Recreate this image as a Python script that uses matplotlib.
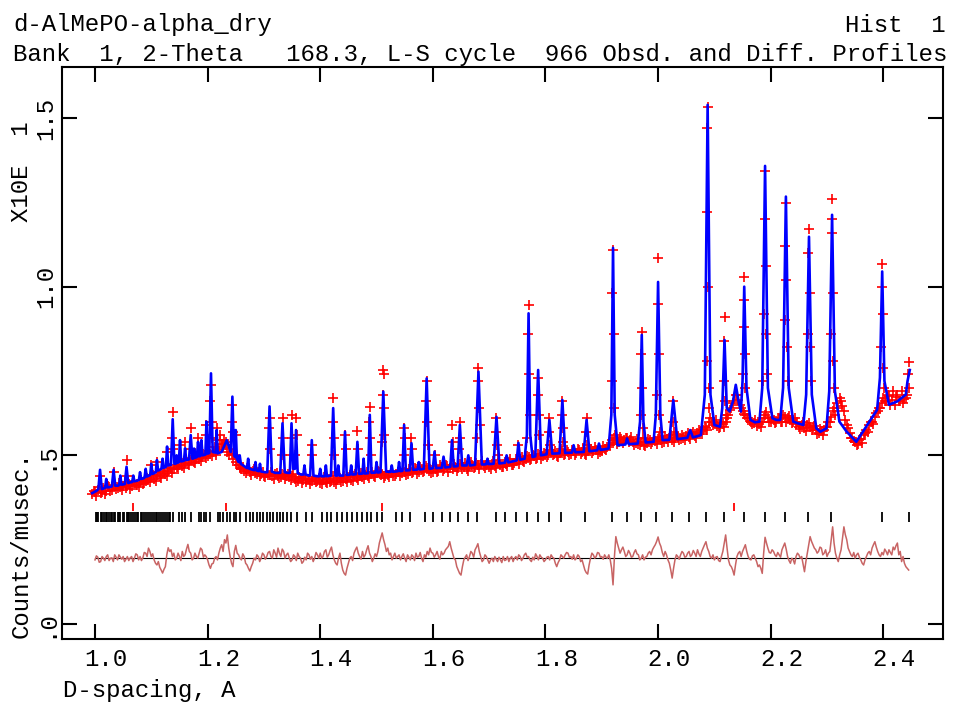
import numpy as np
import matplotlib
matplotlib.use("Agg")
import matplotlib.pyplot as plt
from matplotlib.transforms import ScaledTranslation

plt.rcParams['font.family'] = ['Liberation Mono', 'DejaVu Sans Mono']

# ---------------- data ----------------
title_left = "d-AlMePO-alpha_dry"
title_right = "Hist  1"
subtitle = "Bank  1, 2-Theta   168.3, L-S cycle  966 Obsd. and Diff. Profiles"
x_label = "D-spacing, A"
y_label = "Counts/musec."
y_scale_label = "X10E  1"

x_ticks = [1.0, 1.2, 1.4, 1.6, 1.8, 2.0, 2.2, 2.4]
x_tick_labels = ["1.0", "1.2", "1.4", "1.6", "1.8", "2.0", "2.2", "2.4"]
y_ticks = [0.0, 0.5, 1.0, 1.5]
y_tick_labels = [".0", ".5", "1.0", "1.5"]

# calculated profile (d, counts)
calc_profile = [
    (0.995, 0.388), (1.003, 0.395),
    (1.006, 0.400), (1.009, 0.457), (1.012, 0.400), (1.016, 0.402),
    (1.018, 0.404), (1.020, 0.430), (1.022, 0.405), (1.027, 0.406),
    (1.030, 0.408), (1.033, 0.457), (1.036, 0.410), (1.041, 0.410),
    (1.043, 0.412), (1.045, 0.440), (1.047, 0.413), (1.051, 0.414),
    (1.053, 0.415), (1.056, 0.466), (1.059, 0.418), (1.063, 0.420),
    (1.066, 0.421), (1.068, 0.440), (1.070, 0.423), (1.075, 0.425),
    (1.078, 0.427), (1.080, 0.450), (1.082, 0.430), (1.086, 0.432),
    (1.088, 0.434), (1.090, 0.460), (1.092, 0.437), (1.096, 0.440),
    (1.098, 0.442), (1.100, 0.475), (1.102, 0.445), (1.106, 0.448),
    (1.108, 0.450), (1.110, 0.486), (1.112, 0.455), (1.116, 0.458),
    (1.118, 0.460), (1.120, 0.490), (1.122, 0.463),
    (1.126, 0.466), (1.128, 0.526), (1.130, 0.470),
    (1.135, 0.472), (1.138, 0.607), (1.141, 0.475),
    (1.144, 0.476), (1.145, 0.500), (1.147, 0.478),
    (1.149, 0.480), (1.151, 0.545), (1.153, 0.482),
    (1.158, 0.484), (1.160, 0.521), (1.162, 0.486),
    (1.167, 0.488), (1.170, 0.560), (1.173, 0.490),
    (1.175, 0.491), (1.176, 0.520), (1.178, 0.493),
    (1.181, 0.495), (1.183, 0.540), (1.185, 0.497),
    (1.187, 0.498), (1.189, 0.545), (1.191, 0.500),
    (1.196, 0.502), (1.198, 0.600), (1.200, 0.505),
    (1.203, 0.507), (1.206, 0.743), (1.209, 0.510),
    (1.214, 0.508), (1.216, 0.575), (1.218, 0.506),
    (1.225, 0.510), (1.234, 0.545), (1.239, 0.520),
    (1.241, 0.510), (1.244, 0.674), (1.247, 0.500),
    (1.249, 0.495), (1.250, 0.575), (1.252, 0.490),
    (1.255, 0.480), (1.257, 0.500), (1.259, 0.475), (1.265, 0.468),
    (1.270, 0.462), (1.272, 0.490), (1.274, 0.460),
    (1.283, 0.456), (1.285, 0.480), (1.287, 0.455),
    (1.291, 0.453), (1.293, 0.475), (1.295, 0.452), (1.302, 0.450),
    (1.306, 0.450), (1.310, 0.645), (1.314, 0.452), (1.320, 0.448),
    (1.329, 0.448), (1.333, 0.595), (1.337, 0.450), (1.342, 0.448),
    (1.346, 0.448), (1.349, 0.595), (1.352, 0.460),
    (1.355, 0.460), (1.357, 0.575), (1.360, 0.447), (1.366, 0.443),
    (1.370, 0.443), (1.372, 0.470), (1.374, 0.443), (1.380, 0.440),
    (1.382, 0.440), (1.385, 0.545), (1.388, 0.440), (1.395, 0.438),
    (1.398, 0.438), (1.400, 0.460), (1.402, 0.438),
    (1.408, 0.438), (1.410, 0.470), (1.412, 0.438),
    (1.419, 0.440), (1.423, 0.640), (1.427, 0.440),
    (1.430, 0.440), (1.432, 0.470), (1.434, 0.440),
    (1.441, 0.440), (1.444, 0.570), (1.447, 0.442),
    (1.453, 0.443), (1.455, 0.470), (1.457, 0.443),
    (1.463, 0.444), (1.466, 0.540), (1.469, 0.445),
    (1.475, 0.446), (1.477, 0.490), (1.479, 0.446),
    (1.485, 0.447), (1.488, 0.620), (1.491, 0.448),
    (1.498, 0.449), (1.500, 0.480), (1.502, 0.449),
    (1.507, 0.450), (1.512, 0.689), (1.517, 0.452), (1.522, 0.451),
    (1.525, 0.451), (1.527, 0.470), (1.529, 0.451),
    (1.538, 0.453), (1.540, 0.480), (1.542, 0.453),
    (1.546, 0.454), (1.549, 0.590), (1.552, 0.455),
    (1.559, 0.456), (1.562, 0.536), (1.565, 0.457),
    (1.573, 0.458), (1.575, 0.480), (1.577, 0.458),
    (1.584, 0.460), (1.589, 0.728), (1.594, 0.460),
    (1.600, 0.462), (1.603, 0.511), (1.606, 0.462),
    (1.616, 0.463), (1.619, 0.496), (1.622, 0.464),
    (1.631, 0.466), (1.634, 0.545), (1.637, 0.467),
    (1.644, 0.468), (1.648, 0.590), (1.652, 0.470),
    (1.660, 0.470), (1.663, 0.500), (1.666, 0.470),
    (1.675, 0.472), (1.681, 0.748), (1.687, 0.473), (1.692, 0.473),
    (1.695, 0.474), (1.697, 0.490), (1.699, 0.474),
    (1.708, 0.475), (1.713, 0.614), (1.718, 0.476),
    (1.728, 0.478), (1.731, 0.500), (1.734, 0.479),
    (1.749, 0.485), (1.752, 0.537), (1.755, 0.487),
    (1.763, 0.490), (1.767, 0.560), (1.770, 0.921), (1.773, 0.560), (1.777, 0.495),
    (1.782, 0.497), (1.787, 0.753), (1.792, 0.500),
    (1.802, 0.503), (1.807, 0.605), (1.812, 0.505),
    (1.825, 0.506), (1.830, 0.664), (1.835, 0.507),
    (1.847, 0.508), (1.850, 0.530), (1.853, 0.509),
    (1.868, 0.510), (1.873, 0.605), (1.878, 0.512),
    (1.892, 0.515), (1.895, 0.535), (1.898, 0.516),
    (1.912, 0.520), (1.917, 0.620), (1.920, 1.115), (1.923, 0.620), (1.928, 0.530),
    (1.942, 0.532), (1.945, 0.550), (1.948, 0.533),
    (1.964, 0.535), (1.968, 0.600), (1.971, 0.857), (1.974, 0.600), (1.978, 0.538),
    (1.992, 0.540), (1.996, 0.620), (2.000, 1.014), (2.004, 0.620), (2.008, 0.545),
    (2.020, 0.546), (2.027, 0.664), (2.034, 0.548),
    (2.052, 0.552), (2.057, 0.575), (2.062, 0.553),
    (2.076, 0.560), (2.083, 0.680), (2.088, 1.539), (2.093, 0.680), (2.100, 0.590),
    (2.110, 0.585), (2.114, 0.640), (2.118, 0.842), (2.122, 0.640), (2.127, 0.630),
    (2.133, 0.660), (2.138, 0.709), (2.143, 0.660),
    (2.147, 0.630), (2.150, 0.720), (2.153, 1.000), (2.157, 0.700), (2.164, 0.605), (2.172, 0.598),
    (2.180, 0.600), (2.185, 0.700), (2.190, 1.358), (2.195, 0.700), (2.203, 0.610), (2.210, 0.605),
    (2.217, 0.605), (2.222, 0.700), (2.227, 1.267), (2.232, 0.700), (2.240, 0.600), (2.248, 0.595),
    (2.258, 0.590), (2.263, 0.680), (2.268, 1.148), (2.273, 0.680), (2.281, 0.580), (2.288, 0.570),
    (2.299, 0.580), (2.304, 0.690), (2.309, 1.213), (2.314, 0.690), (2.322, 0.600),
    (2.335, 0.570), (2.352, 0.540), (2.385, 0.625),
    (2.389, 0.635), (2.394, 0.730), (2.398, 1.045), (2.402, 0.720), (2.410, 0.650),
    (2.425, 0.660), (2.440, 0.680), (2.443, 0.720), (2.447, 0.753),
]

# observed points along the background: two interleaved rows, step 0.005 A
obs_start = 0.995
obs_step = 0.005
obs_bg_v = [
    0.385, 0.392, 0.398, 0.388, 0.402, 0.395, 0.405, 0.398, 0.410, 0.402,
    0.405, 0.410, 0.402, 0.415, 0.408, 0.418, 0.412, 0.420, 0.415, 0.425,
    0.428, 0.435, 0.430, 0.442, 0.438, 0.448, 0.445, 0.455, 0.460, 0.458,
    0.465, 0.472, 0.468, 0.478, 0.475, 0.485, 0.480, 0.490, 0.488, 0.495,
    0.500, 0.498, 0.505, 0.510, 0.500, 0.520, 0.535, 0.530, 0.510, 0.520,
    0.490, 0.480, 0.470, 0.458, 0.455, 0.462, 0.450, 0.455, 0.448, 0.452,
    0.445, 0.440, 0.448, 0.442, 0.438, 0.445, 0.440, 0.435, 0.442, 0.438,
    0.435, 0.440, 0.430, 0.425, 0.432, 0.428, 0.422, 0.430, 0.425, 0.428,
    0.425, 0.418, 0.428, 0.422, 0.430, 0.425, 0.420, 0.428, 0.432, 0.425,
    0.430, 0.435, 0.428, 0.438, 0.432, 0.440, 0.435, 0.442, 0.438, 0.445,
    0.440, 0.448, 0.452, 0.445, 0.438, 0.442, 0.448, 0.440, 0.445, 0.450,
    0.448, 0.452, 0.445, 0.455, 0.450, 0.458, 0.452, 0.460, 0.455, 0.462,
    0.458, 0.452, 0.460, 0.455, 0.465, 0.460, 0.468, 0.462, 0.458, 0.465,
    0.462, 0.470, 0.465, 0.460, 0.468, 0.472, 0.465, 0.470, 0.475, 0.468,
    0.470, 0.465, 0.475, 0.468, 0.478, 0.472, 0.465, 0.475, 0.480, 0.472,
    0.478, 0.485, 0.490, 0.482, 0.488, 0.495, 0.490, 0.498, 0.492, 0.500,
    0.498, 0.505, 0.500, 0.510, 0.505, 0.498, 0.508, 0.512, 0.505, 0.510,
    0.505, 0.512, 0.508, 0.515, 0.510, 0.505, 0.512, 0.518, 0.512, 0.515,
    0.518, 0.512, 0.520, 0.525, 0.530, 0.538, 0.545, 0.540, 0.548, 0.545,
    0.550, 0.545, 0.540, 0.538, 0.535, 0.540, 0.532, 0.538, 0.545, 0.540,
    0.542, 0.548, 0.545, 0.540, 0.548, 0.552, 0.545, 0.550, 0.555, 0.548,
    0.552, 0.558, 0.555, 0.562, 0.558, 0.565, 0.570, 0.575, 0.580, 0.600,
    0.600, 0.595, 0.588, 0.585, 0.592, 0.600, 0.620, 0.640, 0.660, 0.680,
    0.650, 0.630, 0.620, 0.610, 0.600, 0.595, 0.588, 0.592, 0.600, 0.620,
    0.610, 0.600, 0.605, 0.598, 0.610, 0.600, 0.615, 0.610, 0.605, 0.598,
    0.592, 0.585, 0.590, 0.580, 0.590, 0.585, 0.580, 0.575, 0.565, 0.572,
    0.575, 0.585, 0.600, 0.630, 0.620, 0.640, 0.660, 0.630, 0.590, 0.565,
    0.550, 0.540, 0.535, 0.548, 0.560, 0.575, 0.590, 0.600, 0.615, 0.630,
    0.640, 0.670, 0.660, 0.675, 0.665, 0.650, 0.680, 0.660, 0.655, 0.670,
    0.700,
]
obs_bg2_v = [
    0.395, 0.380, 0.405, 0.392, 0.385, 0.410, 0.395, 0.412, 0.400, 0.418,
    0.398, 0.420, 0.410, 0.400, 0.425, 0.412, 0.405, 0.428, 0.418, 0.432,
    0.420, 0.442, 0.425, 0.450, 0.432, 0.455, 0.440, 0.462, 0.448, 0.470,
    0.458, 0.480, 0.462, 0.488, 0.470, 0.492, 0.478, 0.500, 0.482, 0.505,
    0.492, 0.512, 0.498, 0.525, 0.515, 0.545, 0.525, 0.540, 0.500, 0.505,
    0.500, 0.470, 0.462, 0.465, 0.448, 0.458, 0.442, 0.460, 0.445, 0.440,
    0.452, 0.435, 0.442, 0.450, 0.430, 0.448, 0.432, 0.445, 0.430, 0.446,
    0.428, 0.445, 0.420, 0.435, 0.418, 0.438, 0.430, 0.415, 0.435, 0.420,
    0.432, 0.415, 0.435, 0.418, 0.422, 0.438, 0.415, 0.432, 0.420, 0.438,
    0.422, 0.442, 0.425, 0.445, 0.428, 0.448, 0.430, 0.450, 0.432, 0.452,
    0.435, 0.455, 0.442, 0.432, 0.450, 0.435, 0.455, 0.438, 0.452, 0.440,
    0.458, 0.442, 0.460, 0.448, 0.462, 0.445, 0.465, 0.450, 0.468, 0.455,
    0.448, 0.468, 0.450, 0.470, 0.455, 0.472, 0.452, 0.470, 0.475, 0.455,
    0.475, 0.458, 0.478, 0.455, 0.480, 0.462, 0.478, 0.460, 0.482, 0.462,
    0.478, 0.460, 0.482, 0.462, 0.485, 0.465, 0.480, 0.468, 0.488, 0.470,
    0.490, 0.475, 0.495, 0.480, 0.498, 0.485, 0.502, 0.488, 0.505, 0.490,
    0.508, 0.495, 0.515, 0.500, 0.512, 0.495, 0.518, 0.502, 0.515, 0.500,
    0.515, 0.500, 0.520, 0.505, 0.522, 0.500, 0.520, 0.508, 0.525, 0.505,
    0.510, 0.528, 0.515, 0.532, 0.545, 0.552, 0.535, 0.555, 0.538, 0.552,
    0.540, 0.555, 0.532, 0.548, 0.530, 0.550, 0.528, 0.548, 0.535, 0.552,
    0.535, 0.555, 0.538, 0.558, 0.540, 0.560, 0.540, 0.562, 0.545, 0.560,
    0.545, 0.565, 0.548, 0.570, 0.552, 0.575, 0.562, 0.585, 0.575, 0.610,
    0.590, 0.605, 0.580, 0.598, 0.585, 0.612, 0.635, 0.655, 0.680, 0.665,
    0.640, 0.622, 0.610, 0.602, 0.592, 0.605, 0.598, 0.585, 0.610, 0.628,
    0.600, 0.615, 0.595, 0.612, 0.598, 0.620, 0.600, 0.618, 0.595, 0.610,
    0.600, 0.578, 0.598, 0.572, 0.595, 0.575, 0.588, 0.562, 0.578, 0.560,
    0.585, 0.598, 0.615, 0.640, 0.655, 0.670, 0.645, 0.605, 0.580, 0.552,
    0.542, 0.530, 0.545, 0.538, 0.565, 0.568, 0.598, 0.592, 0.625, 0.640,
    0.655, 0.660, 0.678, 0.650, 0.690, 0.672, 0.662, 0.690, 0.668, 0.680,
]

# observed points on the Bragg peaks (d, counts)
obs_peaks = [
    (1.009, 0.440), (1.033, 0.450), (1.056, 0.486), (1.057, 0.440),
    (1.100, 0.470), (1.110, 0.480), (1.128, 0.510),
    (1.138, 0.629), (1.137, 0.550), (1.139, 0.520),
    (1.151, 0.530), (1.160, 0.540), (1.170, 0.580), (1.171, 0.520),
    (1.183, 0.550), (1.198, 0.590), (1.197, 0.560),
    (1.206, 0.709), (1.205, 0.660), (1.207, 0.600), (1.208, 0.550),
    (1.216, 0.580), (1.217, 0.545), (1.222, 0.560), (1.229, 0.545),
    (1.244, 0.650), (1.243, 0.600), (1.245, 0.570), (1.250, 0.560),
    (1.310, 0.610), (1.309, 0.580), (1.311, 0.520),
    (1.333, 0.610), (1.334, 0.550), (1.332, 0.500),
    (1.349, 0.620), (1.350, 0.550), (1.348, 0.500),
    (1.357, 0.610), (1.358, 0.560), (1.356, 0.500),
    (1.385, 0.530), (1.386, 0.500),
    (1.423, 0.669), (1.422, 0.600), (1.424, 0.550), (1.425, 0.500),
    (1.444, 0.560), (1.445, 0.520), (1.466, 0.572), (1.467, 0.520),
    (1.488, 0.644), (1.487, 0.600), (1.489, 0.550), (1.490, 0.500),
    (1.512, 0.753), (1.5125, 0.740), (1.511, 0.680), (1.513, 0.640),
    (1.514, 0.560), (1.510, 0.540),
    (1.549, 0.580), (1.550, 0.550), (1.548, 0.500),
    (1.562, 0.550), (1.563, 0.520),
    (1.589, 0.720), (1.588, 0.660), (1.590, 0.600), (1.591, 0.530),
    (1.603, 0.500), (1.634, 0.590), (1.635, 0.540),
    (1.648, 0.600), (1.649, 0.550), (1.647, 0.520),
    (1.681, 0.758), (1.680, 0.720), (1.682, 0.640), (1.683, 0.590), (1.679, 0.550),
    (1.713, 0.610), (1.712, 0.570), (1.714, 0.530), (1.715, 0.500),
    (1.752, 0.530),
    (1.770, 0.946), (1.769, 0.860), (1.771, 0.740), (1.772, 0.620), (1.768, 0.550),
    (1.787, 0.730), (1.786, 0.680), (1.788, 0.620), (1.789, 0.560),
    (1.807, 0.610), (1.806, 0.570), (1.808, 0.530),
    (1.830, 0.660), (1.829, 0.620), (1.831, 0.580), (1.832, 0.540),
    (1.873, 0.610), (1.872, 0.570), (1.874, 0.530),
    (1.920, 1.110), (1.919, 0.980), (1.921, 0.860), (1.918, 0.720),
    (1.922, 0.640), (1.923, 0.560),
    (1.971, 0.867), (1.970, 0.800), (1.972, 0.700), (1.969, 0.620), (1.973, 0.580),
    (2.000, 1.085), (1.999, 0.950), (2.001, 0.800), (1.998, 0.680),
    (2.002, 0.620), (2.003, 0.570),
    (2.027, 0.660), (2.026, 0.600), (2.028, 0.570),
    (2.088, 1.533), (2.0875, 1.470), (2.087, 1.220), (2.089, 1.000),
    (2.086, 0.780), (2.090, 0.700), (2.091, 0.640),
    (2.118, 0.910), (2.1175, 0.840), (2.117, 0.720), (2.119, 0.660), (2.120, 0.620),
    (2.153, 1.030), (2.1525, 0.960), (2.152, 0.880), (2.154, 0.800),
    (2.151, 0.740), (2.155, 0.700),
    (2.190, 1.343), (2.189, 1.200), (2.191, 1.060), (2.188, 0.920),
    (2.192, 0.860), (2.187, 0.720), (2.193, 0.740),
    (2.227, 1.248), (2.226, 1.120), (2.228, 1.020), (2.225, 0.900),
    (2.229, 0.820), (2.230, 0.720),
    (2.268, 1.171), (2.267, 1.100), (2.269, 0.980), (2.266, 0.860),
    (2.270, 0.820), (2.271, 0.720),
    (2.309, 1.259), (2.3085, 1.200), (2.308, 1.160), (2.310, 0.980),
    (2.307, 0.860), (2.311, 0.780), (2.312, 0.700),
    (2.398, 1.067), (2.397, 1.000), (2.399, 0.920), (2.396, 0.820),
    (2.400, 0.760), (2.401, 0.700),
    (2.445, 0.778), (2.444, 0.740),
]

# difference curve (obs - calc, shifted): values every 0.005 A from 1.000 A,
# plus the values half-way between them
diff_start = 1.000
diff_step = 0.005
diff_level = 0.196
diff_v = [
    0.190, 0.198, 0.185, 0.195, 0.200, 0.188, 0.196, 0.205, 0.190, 0.198,
    0.200, 0.192, 0.188, 0.200, 0.195, 0.205, 0.200, 0.196, 0.210, 0.225,
    0.200, 0.190, 0.175, 0.168, 0.151, 0.170, 0.226, 0.220, 0.210, 0.195,
    0.200, 0.215, 0.205, 0.236, 0.210, 0.195, 0.200, 0.210, 0.220, 0.205,
    0.190, 0.165, 0.180, 0.200, 0.210, 0.235, 0.250, 0.264, 0.200, 0.170,
    0.233, 0.205, 0.190, 0.200, 0.175, 0.157, 0.180, 0.190, 0.200, 0.195,
    0.205, 0.200, 0.215, 0.195, 0.210, 0.225, 0.200, 0.215, 0.205, 0.196,
    0.190, 0.200, 0.210, 0.195, 0.185, 0.190, 0.205, 0.200, 0.195, 0.205,
    0.210, 0.200, 0.220, 0.205, 0.228, 0.190, 0.175, 0.210, 0.160, 0.145,
    0.180, 0.200, 0.210, 0.228, 0.200, 0.215, 0.205, 0.232, 0.200, 0.195,
    0.200, 0.240, 0.270, 0.235, 0.225, 0.210, 0.200, 0.195, 0.205, 0.200,
    0.195, 0.205, 0.190, 0.200, 0.210, 0.200, 0.195, 0.205, 0.215, 0.225,
    0.210, 0.205, 0.200, 0.215, 0.210, 0.225, 0.244, 0.210, 0.190, 0.160,
    0.145, 0.190, 0.205, 0.200, 0.210, 0.220, 0.238, 0.200, 0.190, 0.200,
    0.180, 0.195, 0.200, 0.185, 0.190, 0.200, 0.190, 0.185, 0.200, 0.195,
    0.190, 0.200, 0.195, 0.210, 0.200, 0.185, 0.190, 0.200, 0.205, 0.195,
    0.190, 0.200, 0.205, 0.195, 0.170, 0.190, 0.200, 0.205, 0.210, 0.200,
    0.205, 0.195, 0.200, 0.190, 0.160, 0.148, 0.195, 0.205, 0.200, 0.210,
    0.200, 0.205, 0.195, 0.190, 0.116, 0.259, 0.225, 0.220, 0.215, 0.205,
    0.210, 0.200, 0.220, 0.205, 0.195, 0.190, 0.200, 0.215, 0.220, 0.235,
    0.258, 0.230, 0.200, 0.205, 0.180, 0.136, 0.190, 0.200, 0.205, 0.210,
    0.200, 0.215, 0.205, 0.210, 0.220, 0.200, 0.225, 0.244, 0.215, 0.195,
    0.190, 0.200, 0.185, 0.215, 0.264, 0.190, 0.170, 0.145, 0.200, 0.215,
    0.215, 0.235, 0.200, 0.190, 0.205, 0.185, 0.175, 0.150, 0.257, 0.225,
    0.210, 0.215, 0.200, 0.205, 0.220, 0.240, 0.200, 0.180, 0.190, 0.200,
    0.205, 0.200, 0.155, 0.210, 0.259, 0.235, 0.220, 0.215, 0.225, 0.210,
    0.200, 0.215, 0.288, 0.210, 0.185, 0.220, 0.288, 0.250, 0.215, 0.200,
    0.195, 0.210, 0.190, 0.175, 0.200, 0.215, 0.225, 0.244, 0.215, 0.200,
    0.205, 0.215, 0.220, 0.205, 0.220, 0.240, 0.215, 0.200, 0.170, 0.160,
]
diff_mid_v = [
    0.202, 0.183, 0.200, 0.188, 0.205, 0.195, 0.185, 0.198, 0.205, 0.192,
    0.185, 0.200, 0.196, 0.185, 0.208, 0.190, 0.188, 0.212, 0.200, 0.215,
    0.208, 0.180, 0.185, 0.160, 0.162, 0.205, 0.215, 0.200, 0.190, 0.210,
    0.188, 0.200, 0.222, 0.215, 0.190, 0.210, 0.195, 0.225, 0.198, 0.200,
    0.175, 0.178, 0.195, 0.190, 0.225, 0.215, 0.240, 0.225, 0.180, 0.215,
    0.210, 0.195, 0.208, 0.180, 0.165, 0.170, 0.195, 0.205, 0.185, 0.210,
    0.192, 0.212, 0.200, 0.220, 0.198, 0.210, 0.222, 0.195, 0.210, 0.185,
    0.205, 0.188, 0.200, 0.180, 0.198, 0.210, 0.192, 0.185, 0.212, 0.195,
    0.195, 0.215, 0.198, 0.218, 0.205, 0.180, 0.195, 0.180, 0.150, 0.165,
    0.195, 0.188, 0.220, 0.210, 0.192, 0.198, 0.220, 0.210, 0.185, 0.208,
    0.215, 0.255, 0.250, 0.215, 0.205, 0.190, 0.210, 0.200, 0.190, 0.208,
    0.185, 0.198, 0.205, 0.188, 0.198, 0.212, 0.185, 0.198, 0.205, 0.212,
    0.198, 0.215, 0.192, 0.205, 0.220, 0.230, 0.225, 0.195, 0.170, 0.150,
    0.170, 0.198, 0.188, 0.215, 0.198, 0.228, 0.215, 0.185, 0.205, 0.190,
    0.190, 0.185, 0.192, 0.198, 0.182, 0.188, 0.200, 0.195, 0.185, 0.200,
    0.205, 0.188, 0.205, 0.198, 0.190, 0.198, 0.208, 0.190, 0.198, 0.185,
    0.198, 0.190, 0.198, 0.180, 0.182, 0.205, 0.195, 0.212, 0.198, 0.192,
    0.190, 0.205, 0.185, 0.175, 0.152, 0.175, 0.210, 0.195, 0.212, 0.198,
    0.192, 0.198, 0.205, 0.165, 0.200, 0.240, 0.210, 0.228, 0.200, 0.218,
    0.198, 0.212, 0.208, 0.190, 0.205, 0.198, 0.210, 0.205, 0.228, 0.245,
    0.240, 0.212, 0.215, 0.190, 0.160, 0.165, 0.205, 0.192, 0.215, 0.198,
    0.210, 0.200, 0.218, 0.200, 0.208, 0.215, 0.235, 0.225, 0.200, 0.205,
    0.198, 0.188, 0.200, 0.240, 0.225, 0.175, 0.160, 0.175, 0.210, 0.200,
    0.225, 0.215, 0.192, 0.202, 0.195, 0.170, 0.165, 0.210, 0.240, 0.212,
    0.220, 0.205, 0.212, 0.198, 0.230, 0.222, 0.188, 0.195, 0.178, 0.210,
    0.195, 0.178, 0.185, 0.235, 0.245, 0.225, 0.210, 0.228, 0.205, 0.220,
    0.210, 0.250, 0.240, 0.195, 0.205, 0.255, 0.265, 0.225, 0.205, 0.212,
    0.205, 0.198, 0.180, 0.190, 0.210, 0.205, 0.235, 0.228, 0.205, 0.212,
    0.222, 0.205, 0.212, 0.228, 0.232, 0.205, 0.185, 0.180, 0.165,
]

# reflection positions (phase 1 in black, phase 2 in red)
refl_black = [
    1.001, 1.004, 1.006, 1.010, 1.012, 1.016, 1.019, 1.021, 1.024, 1.028,
    1.031, 1.033, 1.036, 1.040, 1.043, 1.045, 1.049, 1.052, 1.056, 1.058,
    1.061, 1.064, 1.067, 1.071, 1.074, 1.077, 1.081, 1.083, 1.087, 1.091,
    1.094, 1.098, 1.101, 1.104, 1.108, 1.111, 1.114, 1.118, 1.121, 1.124,
    1.128, 1.131, 1.134, 1.138, 1.149, 1.154, 1.159, 1.170, 1.184, 1.188,
    1.194, 1.198, 1.204, 1.218, 1.222, 1.228, 1.234, 1.240, 1.246, 1.250,
    1.258, 1.269, 1.275, 1.281, 1.287, 1.293, 1.299, 1.305, 1.311, 1.317,
    1.323, 1.329, 1.334, 1.341, 1.348, 1.358, 1.375, 1.385, 1.403, 1.412,
    1.420, 1.429, 1.438, 1.447, 1.456, 1.465, 1.474, 1.483, 1.491, 1.500,
    1.509, 1.535, 1.545, 1.559, 1.586, 1.601, 1.616, 1.630, 1.645, 1.663,
    1.678, 1.712, 1.729, 1.748, 1.767, 1.786, 1.806, 1.827, 1.871, 1.918,
    1.944, 1.970, 1.996, 2.025, 2.055, 2.085, 2.117, 2.153, 2.190, 2.225,
    2.266, 2.307, 2.397, 2.446,
]
refl_red = [1.068, 1.232, 1.510, 2.135]
refl_black_level = 0.317
refl_red_level = 0.347

# ---------------- figure ----------------
W, H = 963, 702
fig = plt.figure(figsize=(W / 100, H / 100), dpi=100)
ax = fig.add_axes([62 / W, 1 - 639 / H, (943 - 62) / W, (639 - 67) / H])
ax.set_xlim(0.9414, 2.506)
ax.set_ylim(-0.0445, 1.6512)

calc_d = [p[0] for p in calc_profile]
calc_v = [p[1] for p in calc_profile]
obs_d = np.round(obs_start + obs_step * np.arange(len(obs_bg_v)), 4)
obs2_d = np.round(obs_start + obs_step / 2 + obs_step * np.arange(len(obs_bg2_v)), 4)
pk_d = [p[0] for p in obs_peaks]
pk_v = [p[1] for p in obs_peaks]

diff_d = diff_start + diff_step * np.arange(len(diff_v))
diff_mid_d = diff_start + diff_step / 2 + diff_step * np.arange(len(diff_mid_v))
n_all = len(diff_v) + len(diff_mid_v)
diff_all_d = np.empty(n_all)
diff_all_v = np.empty(n_all)
diff_all_d[0::2] = diff_d
diff_all_d[1::2] = diff_mid_d
diff_all_v[0::2] = diff_v
diff_all_v[1::2] = diff_mid_v

# difference curve and its zero line
ax.plot([diff_d[0], diff_d[-1]], [diff_level, diff_level], color='black', lw=0.8, zorder=2)
ax.plot(diff_all_d, diff_all_v, color='#c86464', lw=1.1, zorder=3)

# reflection markers
ax.plot(refl_black, [refl_black_level] * len(refl_black), ls='none', marker='|',
        ms=6.5, mew=1.3, color='black', zorder=3)
ax.plot(refl_red, [refl_red_level] * len(refl_red), ls='none', marker='|',
        ms=6.0, mew=1.3, color='red', zorder=3)

# observed + calculated
obs_style = dict(ls='none', marker='+', ms=6.5, mew=1.2, color='red', zorder=4)
ax.plot(obs_d, obs_bg_v, **obs_style)
ax.plot(obs2_d, obs_bg2_v, **obs_style)
ax.plot(pk_d, pk_v, **obs_style)
ax.plot(calc_d, calc_v, color='blue', lw=1.9, zorder=5)

# axes styling
for s in ax.spines.values():
    s.set_linewidth(1.5)
ax.set_xticks(x_ticks)
ax.set_yticks(y_ticks)
ax.tick_params(direction='in', length=10.5, width=1.5, top=True, right=True,
               labelbottom=False, labelleft=False)

mono = 'Liberation Mono'
fs = 17.3
offset = ScaledTranslation(11 / 100, 0, fig.dpi_scale_trans)
for t, lab in zip(x_ticks, x_tick_labels):
    ax.text(t, -0.0367, lab, transform=ax.get_xaxis_transform() + offset,
            ha='center', va='center', fontsize=fs, family=mono)
for t, lab in zip(y_ticks, y_tick_labels):
    ax.text(-0.0182, t, lab, transform=ax.get_yaxis_transform(), rotation=90,
            ha='center', va='center', fontsize=fs, family=mono)

fig.text(13 / W, 1 - 25 / H, title_left, ha='left', va='center', fontsize=fs, family=mono)
fig.text(946 / W, 1 - 25 / H, title_right, ha='right', va='center', fontsize=fs, family=mono)
fig.text(13 / W, 1 - 54 / H, subtitle, ha='left', va='center', fontsize=fs, family=mono)
fig.text(63 / W, 1 - 690 / H, x_label, ha='left', va='center', fontsize=fs, family=mono)
fig.text(21 / W, 1 - 638 / H, y_label, ha='left', va='center', rotation=90,
         fontsize=fs, family=mono, rotation_mode='anchor')
fig.text(21 / W, 1 - 222 / H, y_scale_label, ha='left', va='center', rotation=90,
         fontsize=fs, family=mono, rotation_mode='anchor')

fig.savefig('out.png', dpi=100)
